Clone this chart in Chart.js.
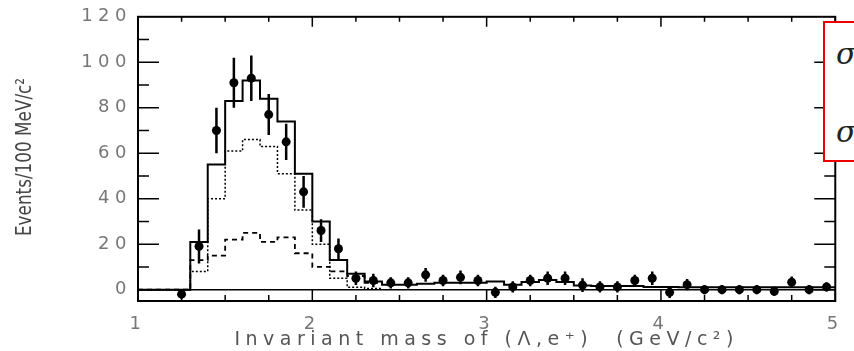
<!DOCTYPE html>
<html>
<head>
<meta charset="utf-8">
<script src="https://cdn.jsdelivr.net/npm/chart.js@4.4.1/dist/chart.umd.min.js"></script>
<style>
  html, body { margin: 0; padding: 0; background: #fff; overflow: hidden; }
  #wrap { position: relative; width: 854px; height: 351px; }
  #ytitle {
    position: absolute; left: 24px; top: 157px;
    transform: translate(-50%, -50%) rotate(-90deg) scaleX(0.89);
    white-space: nowrap; color: #444;
    font: 21px "Liberation Sans Narrow", "DejaVu Sans Condensed", sans-serif;
  }
  #sigbox {
    position: absolute; left: 823px; top: 21px; width: 60px; height: 137px;
    border: 2px solid #e00; background: #fff;
  }
  .sig { position: absolute; left: 11px; font: italic 30px "DejaVu Serif", serif; color: #222; line-height: 1; }
</style>
</head>
<body>
<div id="wrap">
  <canvas id="chart" width="854" height="351"></canvas>
  <div id="ytitle">Events/100 MeV/c²</div>
  <div id="sigbox"><span class="sig" style="top:16px">σ</span><span class="sig" style="top:94px">σ</span></div>
</div>
<script>
// histogram bins (lower edges, 100 MeV wide)
const binLow = [1.3, 1.4, 1.5, 1.6, 1.7, 1.8, 1.9, 2.0, 2.1, 2.2, 2.3, 2.4, 2.5, 2.6, 2.7, 2.8, 2.9,
  3.0, 3.1, 3.2, 3.3, 3.4, 3.5, 3.6, 3.7, 3.8, 3.9, 4.0, 4.1, 4.2, 4.3, 4.4, 4.5, 4.6, 4.7, 4.8, 4.9];
const binWidth = 0.1;
// solid: total fit
const totalFit = [21, 55, 83, 92, 84, 74, 51, 30, 13, 7, 3.6, 2.2, 2.2, 2.6, 3, 3, 3,
  3.6, 2.2, 3.4, 4.2, 3.4, 1.8, 1.6, 1.6, 1.6, 1.2, 1.2, 1, 1, 1, 1, 1, 1, 1, 1, 1];
// dotted: signal part, dashed: background part (only first bins visible)
const signalFit = [8, 40, 61, 66, 63, 51, 35, 20, 5, 1, 0.5];
const bgFit = [13, 15, 22, 25, 21, 23, 16, 10, 8, 6, 3];

// data points at bin centres
const dataX = [1.25, 1.35, 1.45, 1.55, 1.65, 1.75, 1.85, 1.95, 2.05, 2.15, 2.25, 2.35, 2.45, 2.55, 2.65,
  2.75, 2.85, 2.95, 3.05, 3.15, 3.25, 3.35, 3.45, 3.55, 3.65, 3.75, 3.85, 3.95, 4.05, 4.15, 4.25,
  4.35, 4.45, 4.55, 4.65, 4.75, 4.85, 4.95];
const dataY = [-2, 19, 70, 91, 93, 77, 65, 43, 26, 18, 5, 4, 3, 3, 6.5,
  4, 5.4, 4, -1.2, 1.2, 4, 5, 5, 2, 1.2, 1.2, 4, 5, -1.2, 2.2, 0,
  0, 0, 0, -0.7, 3.3, 0, 1.2];
const dataErr = [2, 7.5, 10, 11, 10, 9, 8, 7, 5, 4.5, 3, 3, 2.5, 2.5, 3,
  2.5, 3, 2.5, 2.5, 2.5, 2.5, 3, 3, 3, 2.5, 2.5, 2.5, 3, 2.5, 2.5, 2,
  2, 2, 2, 2, 2.5, 2, 2];

const xTicks = [1, 2, 3, 4, 5];
const yTicks = [0, 20, 40, 60, 80, 100, 120];
const xMarks = [];
for (let v = 1; v <= 5.001; v += 0.25) xMarks.push(Math.round(v * 100) / 100);
const yMarks = [0, 10, 20, 30, 40, 50, 60, 70, 80, 90, 100, 110];

function steps(values) {
  const pts = [{ x: 1, y: 0 }];
  values.forEach((v, i) => pts.push({ x: binLow[i], y: v }));
  const last = values.length - 1;
  pts.push({ x: binLow[last] + binWidth, y: values[last] });
  return pts;
}

const frame = {
  id: 'frame',
  beforeDraw(chart) {
    chart.ctx.letterSpacing = '5.5px';
  },
  afterDatasetsDraw(chart) {
    const { ctx, chartArea: a, scales: { x, y } } = chart;
    ctx.save();
    ctx.strokeStyle = '#000';
    // error bars
    ctx.lineWidth = 2.5;
    ctx.beginPath();
    dataX.forEach((cx, i) => {
      const px = x.getPixelForValue(cx);
      ctx.moveTo(px, y.getPixelForValue(dataY[i] - dataErr[i]));
      ctx.lineTo(px, y.getPixelForValue(dataY[i] + dataErr[i]));
    });
    ctx.stroke();
    // tick marks, inside the frame
    ctx.lineWidth = 1.5;
    ctx.beginPath();
    xMarks.forEach(v => {
      const px = x.getPixelForValue(v);
      const major = Number.isInteger(v);
      ctx.moveTo(px, a.bottom); ctx.lineTo(px, a.bottom - (major ? 12 : 6));
      ctx.moveTo(px, a.top); ctx.lineTo(px, a.top + (major ? 10 : 5));
    });
    yMarks.forEach(v => {
      const py = y.getPixelForValue(v);
      const len = v % 20 === 0 ? 21 : 11;
      ctx.moveTo(a.left, py); ctx.lineTo(a.left + len, py);
      ctx.moveTo(a.right, py); ctx.lineTo(a.right - len, py);
    });
    ctx.stroke();
    ctx.lineWidth = 2;
    ctx.strokeRect(a.left, a.top, a.right - a.left, a.bottom - a.top);
    ctx.restore();
  }
};

const ctx = document.getElementById('chart').getContext('2d');
const chart = new Chart(ctx, {
  type: 'line',
  data: {
    datasets: [
      {
        label: 'zero',
        data: [{ x: 1, y: 0 }, { x: 5, y: 0 }],
        borderColor: '#000',
        borderWidth: 1.5,
        pointRadius: 0,
      },
      {
        label: 'total',
        data: steps(totalFit),
        stepped: 'before',
        borderColor: '#000',
        borderWidth: 2,
        pointRadius: 0,
      },
      {
        label: 'signal',
        data: steps(signalFit),
        stepped: 'before',
        borderColor: '#000',
        borderWidth: 1.5,
        borderDash: [2, 2],
        pointRadius: 0,
      },
      {
        label: 'background',
        data: steps(bgFit),
        stepped: 'before',
        borderColor: '#000',
        borderWidth: 1.8,
        borderDash: [5, 4],
        pointRadius: 0,
      },
      {
        label: 'data',
        data: dataX.map((x, i) => ({ x: x, y: dataY[i] })),
        showLine: false,
        pointRadius: 4.5,
        pointBackgroundColor: '#000',
        pointBorderColor: '#000',
        pointBorderWidth: 0,
      },
    ],
  },
  options: {
    responsive: false,
    animation: false,
    layout: { padding: { top: 14, right: 4, left: 0, bottom: 0 } },
    plugins: {
      legend: { display: false },
      tooltip: { enabled: false },
    },
    scales: {
      x: {
        type: 'linear',
        min: 1,
        max: 5,
        afterBuildTicks: (s) => { s.ticks = xTicks.map(v => ({ value: v })); },
        afterFit: (s) => { s.height = 50; },
        grid: { display: false, drawTicks: false },
        border: { display: false },
        ticks: {
          color: '#777',
          font: { family: 'DejaVu Sans', size: 18 },
          padding: 13,
          maxRotation: 0,
        },
        title: {
          display: true,
          text: 'Invariant mass of (\u039b,e\u207a)  (GeV/c\u00b2)',
          color: '#555',
          font: { family: 'DejaVu Sans', size: 19 },
          padding: { top: 0, bottom: 0 },
        },
      },
      y: {
        min: -5,
        max: 120,
        afterBuildTicks: (s) => { s.ticks = yTicks.map(v => ({ value: v })); },
        afterFit: (s) => { s.width = 138; },
        grid: { display: false, drawTicks: false },
        border: { display: false },
        ticks: {
          color: '#777',
          font: { family: 'DejaVu Sans', size: 18 },
          padding: 6,
        },
      },
    },
  },
  plugins: [frame],
});
</script>
</body>
</html>
